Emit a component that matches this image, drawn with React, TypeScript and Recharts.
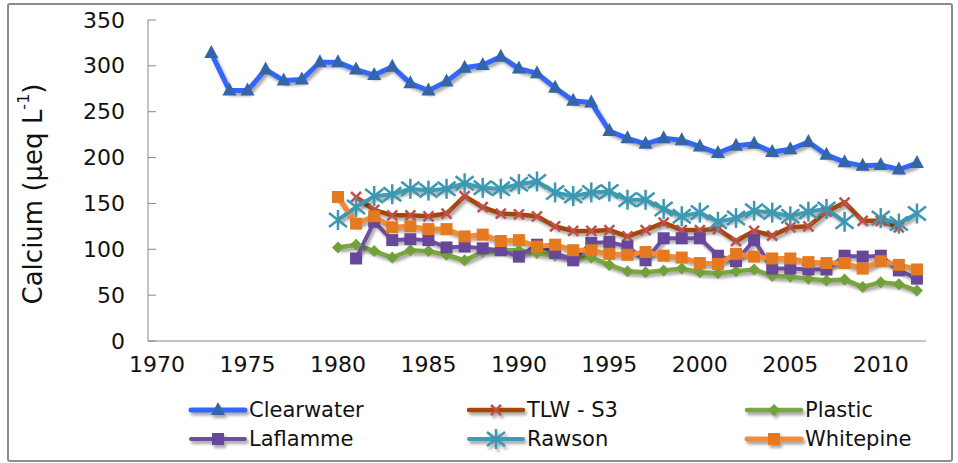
import React from "react"
import { LineChart, Line, XAxis, YAxis } from "recharts"

// years on the x axis
const years = [
  1973, 1974, 1975, 1976, 1977, 1978, 1979, 1980, 1981, 1982,
  1983, 1984, 1985, 1986, 1987, 1988, 1989, 1990, 1991, 1992,
  1993, 1994, 1995, 1996, 1997, 1998, 1999, 2000, 2001, 2002,
  2003, 2004, 2005, 2006, 2007, 2008, 2009, 2010, 2011, 2012,
]
const xTicks = [1970, 1975, 1980, 1985, 1990, 1995, 2000, 2005, 2010]
const yTicks = [0, 50, 100, 150, 200, 250, 300, 350]

// calcium, µeq/L, aligned with `years`
const clearwater = [
  314, 273, 273, 296, 284, 285, 304, 304, 296, 290,
  299, 281, 273, 283, 298, 301, 310, 297, 292, 276,
  262, 260, 229, 221, 215, 221, 219, 212, 205, 213,
  215, 206, 209, 217, 203, 195, 191, 192, 187, 194,
]
const tlwS3 = [
  null, null, null, null, null, null, null, null, 157, 143,
  137, 137, 136, 139, 158, 146, 139, 138, 136, 125,
  120, 120, 121, 114, 121, 129, 121, 121, 122, 109,
  120, 115, 124, 125, 141, 151, 131, 131, 124, null,
]
const plastic = [
  null, null, null, null, null, null, null, 102, 105, 98,
  91, 99, 98, 94, 88, 97, 99, 99, 96, 93,
  91, 91, 83, 76, 75, 77, 79, 75, 74, 76,
  78, 71, 70, 68, 66, 67, 59, 64, 62, 55,
]
const laflamme = [
  null, null, null, null, null, null, null, null, 90, 130,
  110, 111, 110, 102, 103, 101, 99, 92, 105, 96,
  88, 107, 108, 103, 88, 112, 112, 112, 93, 87,
  110, 79, 79, 78, 78, 93, 92, 93, 77, 68,
]
const rawson = [
  null, null, null, null, null, null, null, 132, 146, 158,
  160, 166, 164, 166, 172, 167, 166, 171, 174, 162,
  158, 162, 163, 154, 154, 144, 136, 140, 130, 134,
  142, 140, 136, 141, 144, 130, null, 134, 128, 139,
]
const whitepine = [
  null, null, null, null, null, null, null, 157, 128, 136,
  124, 125, 122, 122, 114, 116, 109, 110, 103, 105,
  99, 99, 95, 94, 97, 93, 91, 85, 84, 95,
  92, 90, 90, 86, 85, 85, 79, 87, 83, 78,
]

const FONT = "'DejaVu Sans', Verdana, sans-serif"

type Shape = "triangle" | "x" | "diamond" | "square" | "star"

const series: {
  key: string
  name: string
  values: (number | null)[]
  line: string
  marker: string
  shape: Shape
  width: number
}[] = [
  { key: "clearwater", name: "Clearwater", values: clearwater, line: "#3366ff", marker: "#3465a8", shape: "triangle", width: 5 },
  { key: "tlw", name: "TLW - S3", values: tlwS3, line: "#a5470d", marker: "#c0504d", shape: "x", width: 4.5 },
  { key: "plastic", name: "Plastic", values: plastic, line: "#7ba640", marker: "#72a03a", shape: "diamond", width: 4.5 },
  { key: "laflamme", name: "Laflamme", values: laflamme, line: "#6e4f9f", marker: "#66479a", shape: "square", width: 4 },
  { key: "rawson", name: "Rawson", values: rawson, line: "#3e9cb5", marker: "#3a98b2", shape: "star", width: 4 },
  { key: "whitepine", name: "Whitepine", values: whitepine, line: "#f08b37", marker: "#e5791f", shape: "square", width: 5 },
]

const data = years.map((year, i) => {
  const row: Record<string, number | null> = { year }
  series.forEach((s) => (row[s.key] = s.values[i]))
  return row
})

function Marker({ shape, cx, cy, color }: { shape: Shape; cx: number; cy: number; color: string }) {
  switch (shape) {
    case "triangle":
      return <polygon points={`${cx},${cy - 8} ${cx - 7},${cy + 5} ${cx + 7},${cy + 5}`} fill={color} />
    case "x":
      return (
        <g stroke={color} strokeWidth={2.5}>
          <line x1={cx - 5} y1={cy - 5} x2={cx + 5} y2={cy + 5} />
          <line x1={cx - 5} y1={cy + 5} x2={cx + 5} y2={cy - 5} />
        </g>
      )
    case "diamond":
      return <polygon points={`${cx},${cy - 6} ${cx + 6},${cy} ${cx},${cy + 6} ${cx - 6},${cy}`} fill={color} />
    case "square":
      return <rect x={cx - 6} y={cy - 6} width={12} height={12} fill={color} />
    case "star":
      return (
        <g stroke={color} strokeWidth={2.5}>
          <line x1={cx} y1={cy - 10} x2={cx} y2={cy + 10} />
          <line x1={cx - 9} y1={cy - 7} x2={cx + 9} y2={cy + 7} />
          <line x1={cx - 9} y1={cy + 7} x2={cx + 9} y2={cy - 7} />
        </g>
      )
  }
}

function YTick({ x, y, payload }: any) {
  return (
    <g>
      <line x1={x} x2={x + 8} y1={y} y2={y} stroke="#868686" />
      <text x={x - 23} y={y} textAnchor="end" dominantBaseline="central" fontSize={22} fontFamily={FONT} fill="#111">
        {payload.value}
      </text>
    </g>
  )
}

function YTitle() {
  return (
    <text
      x={33}
      y={194}
      transform="rotate(-90, 33, 194)"
      textAnchor="middle"
      dominantBaseline="central"
      fontSize={26}
      fontFamily={FONT}
      fill="#111"
    >
      Calcium (µeq L<tspan dy={-10} fontSize={16}>-1</tspan>
      <tspan dy={10}>)</tspan>
    </text>
  )
}

export default function App() {
  return (
    <div style={{ position: "absolute", left: 0, top: 0, width: 958, height: 463, background: "#fff" }}>
      <style>{`
        .recharts-line, .legend-icon { filter: drop-shadow(2px 3px 1.5px rgba(0,0,0,0.35)); }
      `}</style>
      <div
        style={{
          position: "absolute", left: 7, top: 3, width: 942, height: 455,
          border: "2px solid #8c8c8c", borderRadius: 3,
        }}
      />

      <div style={{ position: "absolute", left: 0, top: 0 }}>
        <LineChart width={958} height={463} data={data} margin={{ top: 20, right: 32, bottom: 0, left: 0 }}>
          <XAxis
            dataKey="year"
            type="number"
            domain={[1969.5, 2012.5]}
            ticks={xTicks}
            interval={0}
            height={122}
            tickLine={false}
            tickMargin={9}
            axisLine={{ stroke: "#868686" }}
            tick={{ fontSize: 22, fill: "#111", fontFamily: FONT }}
          />
          <YAxis
            domain={[0, 350]}
            ticks={yTicks}
            width={148}
            tickLine={false}
            tickSize={0}
            tickMargin={0}
            axisLine={{ stroke: "#868686" }}
            tick={<YTick />}
            label={{ content: YTitle }}
          />
          {series.map((s) => (
            <Line
              key={s.key}
              dataKey={s.key}
              name={s.name}
              type="linear"
              stroke={s.line}
              strokeWidth={s.width}
              isAnimationActive={false}
              activeDot={false}
              dot={(p: any) =>
                p.cy == null || p.value == null ? (
                  <g key={`${s.key}-${p.index}`} />
                ) : (
                  <Marker key={`${s.key}-${p.index}`} shape={s.shape} cx={p.cx} cy={p.cy} color={s.marker} />
                )
              }
            />
          ))}
        </LineChart>
      </div>

      {/* legend, 3 columns x 2 rows */}
      {series.map((s, i) => {
        const col = i % 3
        const row = Math.floor(i / 3)
        return (
          <div
            key={s.key}
            style={{
              position: "absolute",
              left: 189 + col * 278,
              top: 396 + row * 29,
              height: 28,
              display: "flex",
              alignItems: "center",
              fontFamily: FONT,
              fontSize: 21,
              color: "#111",
            }}
          >
            <svg width={58} height={28} style={{ marginRight: 2, overflow: "visible" }}>
              <g className="legend-icon">
                <line x1={2} x2={56} y1={14} y2={14} stroke={s.line} strokeWidth={s.width} strokeLinecap="round" />
                <Marker shape={s.shape} cx={29} cy={14} color={s.marker} />
              </g>
            </svg>
            {s.name}
          </div>
        )
      })}
    </div>
  )
}
